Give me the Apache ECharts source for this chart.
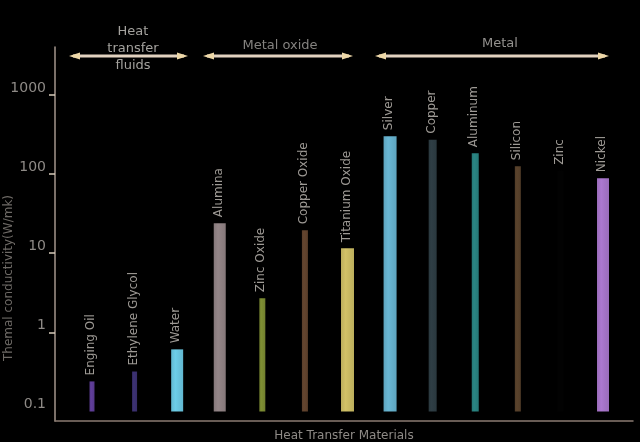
<!DOCTYPE html>
<html>
<head>
<meta charset="utf-8">
<script src="https://cdn.jsdelivr.net/npm/echarts@6/dist/echarts.min.js"></script>
<style>
  html, body { margin: 0; padding: 0; background: #000; }
  #myChart { width: 640px; height: 442px; }
</style>
</head>
<body>
<div id="myChart"></div>
<script>
// 数据
var materials = ['Enging Oil', 'Ethylene Glycol', 'Water', 'Alumina', 'Zinc Oxide', 'Copper Oxide', 'Titanium Oxide',
                 'Silver', 'Copper', 'Aluminum', 'Silicon', 'Zinc', 'Nickel'];
var conductivity = [0.24, 0.32, 0.61, 24, 2.7, 19.5, 11.6, 302, 272, 184, 126, 110, 89];
var yTicks = [0.1, 1, 10, 100, 1000];
var groupNames = ['Heat\ntransfer\nfluids', 'Metal oxide', 'Metal'];

// 样式
var barColors = ['#56388a', '#372d68', '#62b8d0', '#85787a', '#717f2e', '#5a3e2a', '#bcae5c',
                 '#5ea4be', '#2a383e', '#267876', '#513c28', '#020202', '#9a6cba'];
var barWidths = [5, 5, 12, 12, 6, 6, 13, 13, 8, 7, 6, 6, 12];
var font = 'DejaVu Sans, sans-serif';

var myChart = echarts.init(document.getElementById('myChart'));

function barFill(c) {
    return new echarts.graphic.LinearGradient(0, 0, 1, 0, [
        {offset: 0, color: c},
        {offset: 0.35, color: echarts.color.lift(c, -0.12)},
        {offset: 1, color: c}
    ]);
}

function renderBar(params, api) {
    var i = params.dataIndex;
    var top = api.coord([i, api.value(1)]);
    var base = api.coord([i, yTicks[0]]);
    var w = barWidths[i];
    return {
        type: 'group',
        children: [{
            type: 'rect',
            shape: {x: top[0] - w / 2, y: top[1], width: w, height: base[1] - top[1]},
            style: {fill: barFill(barColors[i])}
        }, {
            type: 'text',
            x: top[0] - 1,
            y: top[1] - 6,
            rotation: Math.PI / 2,
            style: {text: materials[i], fill: '#9e9a95', font: '12px ' + font, align: 'left', verticalAlign: 'middle'}
        }]
    };
}

// 分组箭头
function arrow(x1, x2, y) {
    var c = '#e2d2c0';
    return [
        {type: 'line', shape: {x1: x1 + 4, y1: y, x2: x2 - 4, y2: y}, style: {stroke: c, lineWidth: 3}},
        {type: 'polygon', shape: {points: [[x1, y], [x1 + 11, y - 3.5], [x1 + 11, y + 3.5]]}, style: {fill: '#eed8a8'}},
        {type: 'polygon', shape: {points: [[x2, y], [x2 - 11, y - 3.5], [x2 - 11, y + 3.5]]}, style: {fill: '#eed8a8'}}
    ];
}

var graphics = [].concat(arrow(69, 188, 56), arrow(203, 353, 56), arrow(375, 609, 56));
graphics.push(
    {type: 'text', x: 133, y: 49, style: {text: groupNames[0], fill: '#a4a29e', font: '13px ' + font, align: 'center', verticalAlign: 'middle', lineHeight: 17}},
    {type: 'text', x: 280, y: 46, style: {text: groupNames[1], fill: '#84827f', font: '13px ' + font, align: 'center', verticalAlign: 'middle'}},
    {type: 'text', x: 500, y: 44, style: {text: groupNames[2], fill: '#94928f', font: '13px ' + font, align: 'center', verticalAlign: 'middle'}},
    {type: 'text', x: 9, y: 278, rotation: Math.PI / 2, style: {text: 'Themal conductivity(W/mk)', fill: '#6e6a66', font: '12px ' + font, align: 'center', verticalAlign: 'middle'}}
);

var option = {
    backgroundColor: '#000',
    animation: false,
    grid: [
        {left: 70.7, right: 15.7, top: 95, bottom: 30.5, outerBoundsMode: 'none'},
        {left: 55, right: 7, top: 47, bottom: 21, outerBoundsMode: 'none'}
    ],
    xAxis: [{
        gridIndex: 0,
        type: 'category',
        data: materials,
        show: false
    }, {
        gridIndex: 1,
        type: 'value',
        min: 0,
        max: 1,
        axisLine: {show: true, onZero: false, lineStyle: {color: '#8a7b72', width: 1.5}},
        axisTick: {show: false},
        axisLabel: {show: false},
        splitLine: {show: false},
        name: 'Heat Transfer Materials',
        nameLocation: 'middle',
        nameGap: 9,
        nameTextStyle: {color: '#8e8a86', fontSize: 12, fontFamily: font}
    }],
    yAxis: [{
        gridIndex: 0,
        type: 'log',
        logBase: 10,
        min: yTicks[0],
        max: yTicks[yTicks.length - 1],
        offset: 15.7,
        axisLine: {show: false},
        axisTick: {show: true, length: 6, customValues: yTicks.slice(1), lineStyle: {color: '#d8cbbb', width: 1.5}},
        axisLabel: {
            color: '#8e8a86',
            fontSize: 14,
            fontFamily: font,
            margin: 9,
            verticalAlign: 'bottom',
            formatter: function (v) { return String(parseFloat(v.toPrecision(3))); }
        },
        splitLine: {show: false}
    }, {
        gridIndex: 1,
        type: 'value',
        min: 0,
        max: 1,
        axisLine: {show: true, onZero: false, lineStyle: {color: '#a4968c', width: 1.5}},
        axisTick: {show: false},
        axisLabel: {show: false},
        splitLine: {show: false}
    }],
    series: [{
        name: 'Thermal conductivity',
        type: 'custom',
        xAxisIndex: 0,
        yAxisIndex: 0,
        renderItem: renderBar,
        data: conductivity.map(function (v, i) { return [i, v]; })
    }],
    graphic: graphics
};

myChart.setOption(option);
</script>
</body>
</html>
